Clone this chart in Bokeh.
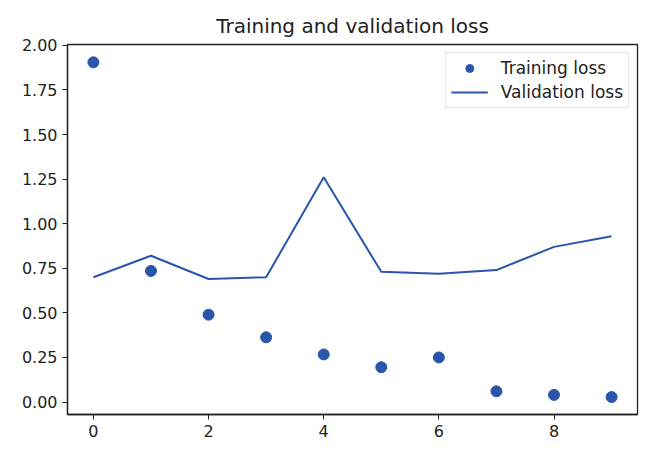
from bokeh.plotting import figure
from bokeh.models import Range1d, FixedTicker, NumeralTickFormatter, Legend, LegendItem
from bokeh.embed import file_html
from bokeh.resources import INLINE

epochs = [0, 1, 2, 3, 4, 5, 6, 7, 8, 9]
training_loss = [1.905, 0.735, 0.49, 0.363, 0.267, 0.195, 0.25, 0.06, 0.04, 0.028]
validation_loss = [0.70, 0.82, 0.69, 0.70, 1.26, 0.73, 0.72, 0.74, 0.87, 0.93]
x_ticks = [0, 2, 4, 6, 8]
y_ticks = [0.0, 0.25, 0.5, 0.75, 1.0, 1.25, 1.5, 1.75, 2.0]

BLUE = "#2a55aa"
FONT = "DejaVu Sans"

p = figure(width=640, height=454, output_backend="svg", toolbar_location=None,
           x_range=Range1d(-0.45, 9.45), y_range=Range1d(-0.07, 2.005),
           min_border_left=67, min_border_right=3, min_border_top=44, min_border_bottom=40)

p.title.text = "Training and validation loss"
p.title.align = "center"
p.title.text_font = FONT
p.title.text_font_size = "20px"
p.title.text_font_style = "normal"
p.title.text_color = "#222222"
p.title.standoff = 13

r1 = p.scatter(epochs, training_loss, size=11, color=BLUE)
r2 = p.line(epochs, validation_loss, line_width=2, color=BLUE)

legend = Legend(items=[LegendItem(label="Training loss", renderers=[r1]),
                       LegendItem(label="Validation loss", renderers=[r2])],
                location="top_right")
legend.label_text_font = FONT
legend.label_text_font_size = "17px"
legend.label_text_color = "#222222"
legend.border_line_color = "#cccccc"
legend.border_line_width = 1
legend.glyph_width = 37
legend.glyph_height = 20
legend.label_height = 20
legend.spacing = 4
legend.padding = 5
legend.margin = 8
legend.label_standoff = 13
p.add_layout(legend)

p.xgrid.visible = False
p.ygrid.visible = False
p.outline_line_color = "#222222"
p.outline_line_width = 1.3

for ax in (p.xaxis, p.yaxis):
    ax.axis_line_color = "#222222"
    ax.axis_line_width = 1.3
    ax.major_tick_line_color = "#222222"
    ax.major_tick_out = 5
    ax.major_tick_in = 0
    ax.minor_tick_line_color = None
    ax.major_label_text_font = FONT
    ax.major_label_text_font_size = "16px"
    ax.major_label_text_color = "#222222"

p.xaxis.ticker = FixedTicker(ticks=x_ticks)
p.yaxis.ticker = FixedTicker(ticks=y_ticks)
p.yaxis.formatter = NumeralTickFormatter(format="0.00")

open("out.html", "w").write(file_html(p, INLINE))
